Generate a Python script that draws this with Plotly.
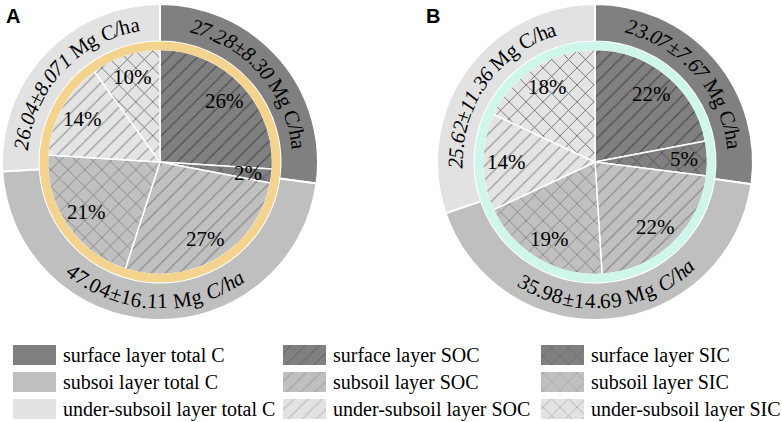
import math
import plotly.graph_objects as go

# ---------------- data ----------------
total_labels = ["surface layer total C", "subsoi layer total C", "under-subsoil layer total C"]
soc_labels = ["surface layer SOC", "subsoil layer SOC", "under-subsoil layer SOC"]
sic_labels = ["surface layer SIC", "subsoil layer SIC", "under-subsoil layer SIC"]
inner_labels = ["surface layer SOC", "surface layer SIC", "subsoil layer SOC",
                "subsoil layer SIC", "under-subsoil layer SOC", "under-subsoil layer SIC"]

a_total = [27.28, 47.04, 26.04]
a_total_txt = ["27.28", "47.04", "26.04"]
a_total_sd = ["8.30", "16.11", "8.071"]
a_inner = [26, 2, 27, 21, 14, 10]

b_total = [23.07, 35.98, 25.62]
b_total_txt = ["23.07", "35.98", "25.62"]
b_total_sd = ["7.67", "14.69", "11.36"]
b_inner = [22, 5, 22, 19, 14, 18]

# ---------------- style ----------------
W, H = 782, 422
layer_bg = ["#808080", "#bfbfbf", "#e2e2e2"]
inner_bg = ["#808080", "#808080", "#c0c0c0", "#c0c0c0", "#e4e4e4", "#e4e4e4"]
inner_shape = ["/", "x", "/", "x", "/", "x"]
inner_fg = ["#4f4f4f", "#474747", "#8a8a8a", "#777777", "#9a9a9a", "#575757"]
inner_size = [10, 12, 10, 12, 10, 12]
ring_colors = ["#f4d38f", "#cff6ea"]
SERIF = "Liberation Serif, Times New Roman, serif"

R_OUT, R_RING, R_IN = 158, 120.5, 112.5
centers = [(160, 162), (595, 162)]

CW = {str(d): 0.5 for d in range(10)}
CW.update({".": 0.25, "±": 0.564, " ": 0.25, "M": 0.889, "g": 0.5, "C": 0.667,
           "/": 0.278, "h": 0.5, "a": 0.444})


def dom(cx, cy, r):
    return dict(x=[(cx - r) / W, (cx + r) / W], y=[(H - cy - r) / H, (H - cy + r) / H])


fig = go.Figure()
annotations = []


def arc_text(cx, cy, r, mid_deg, segments, size):
    chars = [(ch, it) for seg, it in segments for ch in seg]
    widths = [CW.get(ch, 0.5) * size for ch, _ in chars]
    total = sum(widths)
    bottom = 90 < mid_deg < 270
    sign = -1 if bottom else 1
    start = mid_deg - sign * math.degrees(total / 2 / r)
    pos = 0.0
    for (ch, it), w in zip(chars, widths):
        ang = start + sign * math.degrees((pos + w / 2) / r)
        pos += w
        if ch == " ":
            continue
        x = cx + r * math.sin(math.radians(ang))
        y = cy - r * math.cos(math.radians(ang))
        rot = ang - 180 if bottom else ang
        rot = (rot + 180) % 360 - 180
        txt = "<i>%s</i>" % ch if it else ch
        annotations.append(dict(x=x, y=y, xref="x", yref="y", text=txt, textangle=rot,
                                showarrow=False, xanchor="center", yanchor="middle",
                                font=dict(family=SERIF, size=size, color="black")))


panels = [(a_total, a_total_txt, a_total_sd, a_inner), (b_total, b_total_txt, b_total_sd, b_inner)]
for p, (tot, tot_txt, tot_sd, inner) in enumerate(panels):
    cx, cy = centers[p]
    # outer ring: total C per layer
    fig.add_trace(go.Pie(values=tot, labels=total_labels, sort=False, direction="clockwise",
                         rotation=0, hole=R_RING / R_OUT, domain=dom(cx, cy, R_OUT),
                         marker=dict(colors=layer_bg, line=dict(color="white", width=2)),
                         textinfo="none", hoverinfo="label+value", showlegend=False))
    # inner pie: SOC / SIC per layer
    fig.add_trace(go.Pie(values=inner, labels=inner_labels, sort=False, direction="clockwise",
                         rotation=0, domain=dom(cx, cy, R_IN),
                         marker=dict(colors=inner_bg, line=dict(color="white", width=1.5),
                                     pattern=dict(shape=inner_shape, fgcolor=inner_fg,
                                                  bgcolor=inner_bg, fillmode="replace",
                                                  size=inner_size, solidity=0.12)),
                         textinfo="none", hoverinfo="label+value", showlegend=False))
    # coloured ring
    fig.add_trace(go.Pie(values=[1], labels=["ring"], sort=False, hole=(R_IN - 0.5) / R_RING,
                         domain=dom(cx, cy, R_RING),
                         marker=dict(colors=[ring_colors[p]], line=dict(width=0)),
                         textinfo="none", hoverinfo="skip", showlegend=False))

    # curved labels on outer ring
    s = sum(tot)
    acc = 0.0
    for i, v in enumerate(tot):
        mid = (acc + v / 2) / s * 360
        acc += v
        bottom = 90 < mid < 270
        if bottom:
            segs = [(tot_txt[i] + "±" + tot_sd[i] + " Mg ", False), ("C/ha", True)]
        else:
            segs = [(tot_txt[i] + "±" + tot_sd[i], True), (" Mg C/ha", False)]
        arc_text(cx, cy, 139.5, mid, segs, 21)

    # percentage labels on inner pie
    s = sum(inner)
    acc = 0.0
    for v in inner:
        mid = (acc + v / 2) / s * 360
        acc += v
        r = 0.79 * R_IN
        annotations.append(dict(x=cx + r * math.sin(math.radians(mid)),
                                y=cy - r * math.cos(math.radians(mid)),
                                xref="x", yref="y", text="%d%%" % v, showarrow=False,
                                font=dict(family=SERIF, size=21, color="black")))

# panel letters
for letter, (lx, ly) in zip(["A", "B"], [(13, 16), (433, 16)]):
    annotations.append(dict(x=lx, y=ly, xref="x", yref="y", text="<b>%s</b>" % letter,
                            showarrow=False, font=dict(family="Liberation Sans, Arial", size=20,
                                                       color="black")))

# ---------------- legend (manual) ----------------
col_x = [13, 283, 541]
row_y = [355, 382, 409]
sw_w, sw_h = 43, 20
legend_cols = [
    (total_labels, ["", "", ""]),
    (soc_labels, ["/", "/", "/"]),
    (sic_labels, ["x", "x", "x"]),
]
leg_fg = {"": ["#808080"] * 3, "/": ["#555555", "#8a8a8a", "#a0a0a0"],
          "x": ["#505050", "#8a8a8a", "#6a6a6a"]}
for c, (labels, shapes) in enumerate(legend_cols):
    for r_i, lab in enumerate(labels):
        x0, y0 = col_x[c], row_y[r_i] - sw_h / 2
        shp = shapes[r_i]
        patt = dict(shape=shp, fgcolor=leg_fg[shp][r_i], bgcolor=layer_bg[r_i],
                    size=10 if shp == "/" else 12, solidity=0.12) if shp else None
        fig.add_trace(go.Scatter(x=[x0, x0 + sw_w, x0 + sw_w, x0, x0],
                                 y=[y0, y0, y0 + sw_h, y0 + sw_h, y0],
                                 mode="lines", fill="toself", fillcolor=layer_bg[r_i],
                                 fillpattern=patt, line=dict(width=0),
                                 hoverinfo="skip", showlegend=False))
        annotations.append(dict(x=x0 + sw_w + 5, y=row_y[r_i], xref="x", yref="y", text=lab,
                                showarrow=False, xanchor="left", yanchor="middle",
                                font=dict(family=SERIF, size=20, color="black")))

fig.update_layout(
    width=W, height=H, margin=dict(l=0, r=0, t=0, b=0),
    paper_bgcolor="white", plot_bgcolor="rgba(0,0,0,0)",
    xaxis=dict(range=[0, W], visible=False, fixedrange=True, domain=[0, 1]),
    yaxis=dict(range=[H, 0], visible=False, fixedrange=True, domain=[0, 1]),
    annotations=annotations, showlegend=False,
)

fig.write_html("out.html", config={"displayModeBar": False},
               post_script="document.body.style.margin='0';document.body.style.overflow='hidden';")
